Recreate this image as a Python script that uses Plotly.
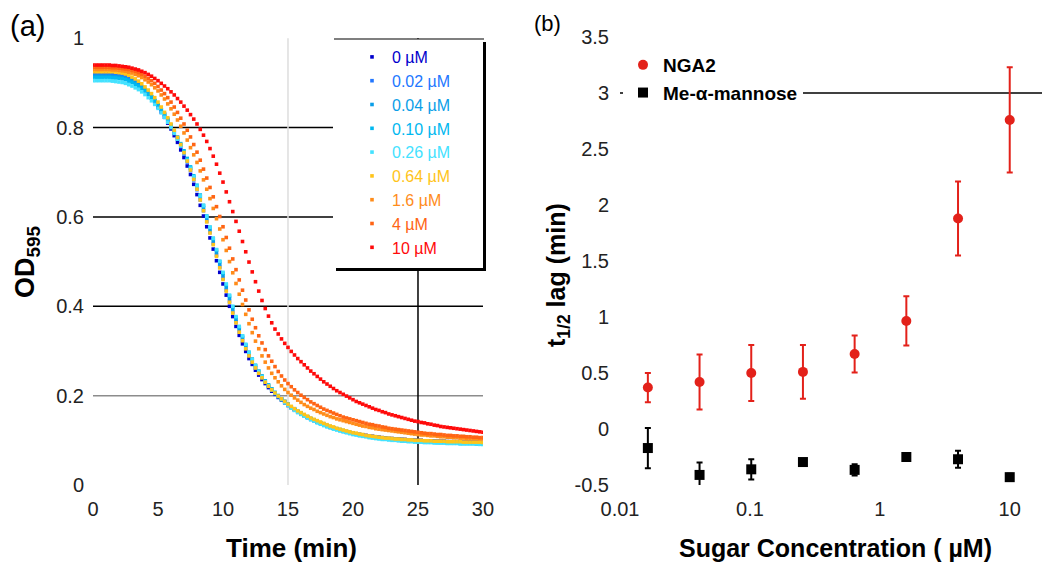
import plotly.graph_objects as go

# ---------------- Panel (a): OD595 vs time, sampled every 0.25 min ----------------
TIME_STEP_MIN = 0.25
CONC_LABELS = ["0 µM", "0.02 µM", "0.04 µM", "0.10 µM", "0.26 µM",
               "0.64 µM", "1.6 µM", "4 µM", "10 µM"]
CONC_COLORS = ["#0000cc", "#2277ff", "#0a9ee8", "#00b8f0", "#44e2ff",
               "#ffc41a", "#ff8c1a", "#ff6414", "#ff0a0a"]

OD_0 = [
    .920, .920, .920, .920, .920, .920, .919, .918, .917, .915,
    .913, .910, .906, .901, .896, .890, .883, .875, .866, .856,
    .846, .835, .823, .810, .797, .782, .767, .750, .733, .714,
    .695, .673, .650, .626, .602, .578, .553, .528, .502, .476,
    .450, .425, .400, .377, .355, .335, .316, .299, .283, .270,
    .257, .246, .236, .227, .218, .210, .203, .196, .190, .184,
    .178, .173, .168, .163, .159, .155, .151, .147, .144, .141,
    .138, .135, .132, .129, .127, .125, .123, .121, .119, .117,
    .116, .114, .113, .112, .111, .110, .109, .108, .107, .106,
    .105, .104, .104, .103, .103, .102, .102, .101, .101, .100,
    .100, .100, .099, .099, .099, .098, .098, .098, .098, .097,
    .097, .097, .097, .097, .096, .096, .096, .096, .096, .095,
    .095]
OD_002 = [
    .918, .918, .918, .918, .918, .918, .918, .917, .916, .914,
    .912, .909, .906, .902, .897, .891, .885, .877, .869, .860,
    .850, .839, .828, .816, .803, .789, .774, .758, .741, .723,
    .704, .683, .661, .638, .614, .590, .565, .540, .514, .488,
    .462, .436, .411, .387, .365, .344, .324, .306, .290, .275,
    .262, .251, .240, .230, .221, .213, .205, .198, .192, .186,
    .180, .174, .169, .164, .160, .156, .152, .148, .145, .142,
    .139, .136, .133, .130, .128, .125, .123, .121, .119, .117,
    .116, .114, .113, .111, .110, .109, .108, .107, .106, .105,
    .105, .104, .103, .103, .102, .102, .101, .101, .100, .100,
    .099, .099, .099, .098, .098, .098, .097, .097, .097, .097,
    .096, .096, .096, .096, .095, .095, .095, .095, .095, .094,
    .094]
OD_004 = [
    .915, .915, .915, .915, .915, .915, .914, .914, .913, .912,
    .910, .907, .904, .900, .895, .890, .884, .877, .869, .861,
    .851, .841, .830, .818, .805, .791, .777, .761, .745, .727,
    .709, .689, .667, .645, .621, .597, .572, .547, .521, .495,
    .469, .443, .418, .394, .371, .350, .330, .312, .295, .280,
    .266, .254, .243, .233, .223, .215, .207, .200, .193, .187,
    .181, .175, .170, .165, .161, .157, .153, .149, .146, .142,
    .139, .136, .133, .131, .128, .126, .124, .122, .120, .118,
    .116, .114, .113, .111, .110, .109, .108, .107, .106, .105,
    .104, .103, .103, .102, .101, .101, .100, .100, .099, .099,
    .098, .098, .098, .097, .097, .097, .096, .096, .096, .095,
    .095, .095, .095, .094, .094, .094, .094, .094, .093, .093,
    .093]
OD_010 = [
    .912, .912, .912, .912, .912, .912, .911, .911, .910, .909,
    .907, .904, .901, .897, .893, .888, .882, .875, .868, .860,
    .851, .841, .830, .819, .806, .793, .779, .764, .748, .731,
    .712, .692, .671, .649, .626, .602, .577, .552, .526, .500,
    .474, .448, .423, .399, .375, .353, .333, .314, .297, .282,
    .268, .255, .244, .233, .224, .215, .207, .200, .193, .187,
    .181, .175, .170, .165, .160, .156, .152, .148, .145, .141,
    .138, .135, .132, .130, .127, .125, .122, .120, .118, .116,
    .115, .113, .112, .110, .109, .108, .107, .106, .105, .104,
    .103, .102, .102, .101, .100, .100, .099, .099, .098, .098,
    .097, .097, .097, .096, .096, .096, .095, .095, .095, .094,
    .094, .094, .094, .093, .093, .093, .093, .093, .092, .092,
    .092]
OD_026 = [
    .905, .905, .905, .905, .905, .905, .904, .903, .902, .901,
    .899, .896, .893, .889, .885, .880, .874, .867, .860, .852,
    .843, .833, .823, .812, .800, .787, .774, .759, .744, .727,
    .709, .690, .669, .647, .625, .601, .577, .552, .527, .501,
    .476, .450, .425, .400, .377, .355, .334, .315, .297, .281,
    .267, .254, .242, .231, .222, .213, .205, .198, .191, .184,
    .178, .172, .167, .162, .158, .154, .150, .146, .143, .139,
    .136, .133, .130, .128, .125, .123, .121, .119, .117, .115,
    .113, .112, .110, .109, .108, .106, .105, .104, .103, .102,
    .102, .101, .100, .100, .099, .098, .098, .097, .097, .096,
    .096, .096, .095, .095, .095, .094, .094, .094, .094, .093,
    .093, .093, .093, .092, .092, .092, .092, .092, .092, .091,
    .091]
OD_064 = [
    .925, .925, .925, .925, .925, .925, .925, .924, .923, .922,
    .920, .917, .913, .909, .904, .898, .891, .884, .876, .867,
    .857, .846, .834, .822, .808, .794, .778, .762, .744, .725,
    .705, .684, .662, .638, .614, .589, .564, .538, .512, .486,
    .460, .434, .409, .385, .363, .342, .323, .305, .289, .275,
    .262, .250, .240, .230, .221, .213, .206, .199, .193, .187,
    .181, .176, .171, .166, .162, .158, .154, .150, .147, .144,
    .141, .138, .135, .132, .130, .127, .125, .123, .121, .119,
    .117, .116, .114, .113, .111, .110, .109, .108, .107, .106,
    .105, .105, .104, .103, .103, .102, .102, .101, .101, .100,
    .100, .100, .099, .099, .099, .098, .098, .098, .098, .097,
    .097, .097, .097, .097, .096, .096, .096, .096, .096, .096,
    .095]
OD_16 = [
    .930, .930, .930, .930, .930, .930, .929, .929, .928, .927,
    .926, .924, .922, .919, .916, .912, .907, .902, .896, .889,
    .882, .873, .864, .853, .842, .830, .817, .803, .788, .772,
    .755, .739, .722, .703, .683, .662, .641, .619, .596, .573,
    .549, .525, .500, .475, .451, .427, .404, .382, .361, .341,
    .322, .305, .289, .275, .262, .250, .240, .231, .222, .214,
    .207, .201, .195, .190, .185, .180, .176, .172, .169, .165,
    .162, .159, .156, .153, .151, .148, .146, .144, .142, .140,
    .138, .136, .134, .132, .131, .129, .128, .126, .125, .124,
    .123, .122, .121, .120, .119, .118, .117, .116, .115, .114,
    .113, .112, .112, .111, .110, .110, .109, .108, .108, .107,
    .107, .106, .106, .105, .105, .104, .104, .104, .104, .103,
    .103]
OD_4 = [
    .935, .935, .935, .935, .935, .935, .934, .934, .933, .932,
    .931, .930, .928, .926, .923, .919, .915, .910, .905, .899,
    .892, .884, .876, .867, .857, .846, .834, .821, .808, .794,
    .779, .762, .745, .727, .707, .687, .666, .645, .623, .601,
    .578, .554, .530, .506, .482, .459, .436, .414, .392, .371,
    .352, .334, .318, .303, .289, .277, .265, .254, .244, .235,
    .227, .220, .213, .207, .201, .196, .191, .186, .182, .178,
    .174, .170, .167, .164, .161, .158, .155, .152, .150, .148,
    .146, .144, .142, .140, .138, .136, .135, .133, .132, .130,
    .129, .127, .126, .125, .124, .123, .122, .121, .120, .119,
    .118, .117, .116, .115, .115, .114, .113, .113, .112, .111,
    .111, .110, .110, .109, .109, .108, .108, .107, .107, .106,
    .106]
OD_10 = [
    .940, .940, .940, .940, .940, .940, .939, .939, .938, .937,
    .936, .935, .933, .931, .929, .926, .923, .919, .915, .910,
    .905, .899, .893, .887, .880, .873, .865, .857, .848, .839,
    .829, .819, .808, .796, .783, .769, .753, .736, .718, .698,
    .678, .656, .634, .612, .590, .568, .545, .522, .499, .477,
    .455, .434, .413, .395, .378, .363, .349, .338, .327, .317,
    .308, .299, .291, .283, .276, .269, .262, .255, .249, .243,
    .237, .231, .226, .221, .216, .211, .207, .203, .199, .195,
    .191, .187, .184, .181, .178, .175, .172, .169, .167, .164,
    .162, .159, .157, .155, .153, .151, .149, .147, .145, .143,
    .142, .140, .139, .137, .136, .134, .133, .131, .130, .129,
    .128, .127, .126, .125, .124, .123, .122, .121, .120, .119,
    .118]
OD_SERIES = [OD_0, OD_002, OD_004, OD_010, OD_026, OD_064, OD_16, OD_4, OD_10]

A_XTICKS = [0, 5, 10, 15, 20, 25, 30]
A_YTICKS = [0, 0.2, 0.4, 0.6, 0.8, 1]
A_YTICKTEXT = ["0", "0.2", "0.4", "0.6", "0.8", "1"]

# ---------------- Panel (b): t1/2 lag vs sugar concentration ----------------
SUGAR_CONC = [0.016384, 0.04096, 0.1024, 0.256, 0.64, 1.6, 4.0, 10.0]
NGA2_LAG = [0.37, 0.42, 0.50, 0.51, 0.67, 0.965, 1.88, 2.76]
NGA2_ERR = [0.13, 0.245, 0.25, 0.24, 0.165, 0.22, 0.33, 0.47]
MANNOSE_LAG = [-0.17, -0.41, -0.36, -0.295, -0.365, -0.25, -0.27, -0.43]
MANNOSE_ERR = [0.18, 0.11, 0.09, 0.015, 0.05, 0.015, 0.075, 0.03]

B_XTICKS = [0.01, 0.1, 1, 10]
B_XTICKTEXT = ["0.01", "0.1", "1", "10"]
B_YTICKS = [-0.5, 0, 0.5, 1, 1.5, 2, 2.5, 3, 3.5]
B_YTICKTEXT = ["-0.5", "0", "0.5", "1", "1.5", "2", "2.5", "3", "3.5"]

# The page body has an 8px margin, so the figure is 8px smaller and every
# screen-pixel position below is converted with that offset.
PAGE_OFFSET = 8
SCREEN_W, SCREEN_H = 1050, 568
W, H = SCREEN_W - PAGE_OFFSET, SCREEN_H - PAGE_OFFSET
FONT = "Liberation Sans, Arial, Helvetica, sans-serif"
RED = "#e3211a"


def px_x(p):
    return (p - PAGE_OFFSET) / W


def px_y(p):
    return 1 - (p - PAGE_OFFSET) / H


fig = go.Figure()

for label, color, od in zip(CONC_LABELS, CONC_COLORS, OD_SERIES):
    t = [i * TIME_STEP_MIN for i in range(len(od))]
    fig.add_trace(go.Scatter(
        x=t, y=od, mode="markers",
        marker=dict(symbol="square", size=3.6, color=color),
        name=f"<span style='color:{color}'>{label}</span>",
        xaxis="x", yaxis="y", legend="legend", hoverinfo="skip"))

fig.add_trace(go.Scatter(
    x=SUGAR_CONC, y=NGA2_LAG, mode="markers",
    marker=dict(symbol="circle", size=10, color=RED),
    error_y=dict(type="data", array=NGA2_ERR, color=RED, thickness=2, width=3),
    name="NGA2", xaxis="x2", yaxis="y2", legend="legend2"))
fig.add_trace(go.Scatter(
    x=SUGAR_CONC, y=MANNOSE_LAG, mode="markers",
    marker=dict(symbol="square", size=10, color="black"),
    error_y=dict(type="data", array=MANNOSE_ERR, color="black", thickness=2, width=3),
    name="Me-α-mannose", xaxis="x2", yaxis="y2", legend="legend2"))

shapes = []
# panel (a) reference lines
for yv, col in [(0.8, "black"), (0.6, "black"), (0.4, "black"), (0.2, "#8c8c8c")]:
    shapes.append(dict(type="line", xref="x", yref="y", x0=0, x1=30, y0=yv, y1=yv,
                       line=dict(color=col, width=1.5), layer="below"))
shapes.append(dict(type="line", xref="x", yref="y", x0=15, x1=15, y0=0, y1=1,
                   line=dict(color="#dddddd", width=1.5), layer="below"))
shapes.append(dict(type="line", xref="x", yref="y", x0=25, x1=25, y0=0, y1=1,
                   line=dict(color="black", width=1.5), layer="below"))
# panel (a) legend frame with drop shadow
shapes.append(dict(type="rect", xref="paper", yref="paper",
                   x0=px_x(336), x1=px_x(486), y0=px_y(271), y1=px_y(42),
                   fillcolor="black", line=dict(width=0), layer="above"))
shapes.append(dict(type="rect", xref="paper", yref="paper",
                   x0=px_x(333), x1=px_x(483), y0=px_y(268), y1=px_y(39),
                   fillcolor="white", line=dict(width=0), layer="above"))
shapes.append(dict(type="line", xref="paper", yref="paper",
                   x0=px_x(334), x1=px_x(484), y0=px_y(39), y1=px_y(39),
                   line=dict(color="black", width=1.2), layer="above"))
# panel (b) line at 3
shapes.append(dict(type="line", xref="x2 domain", yref="y2", x0=0, x1=1, y0=3, y1=3,
                   line=dict(color="black", width=1.5), layer="below"))

annotations = [
    dict(text="(a)", x=0, y=1, xref="paper", yref="paper",
         xanchor="left", yanchor="top", showarrow=False,
         font=dict(size=29, color="black", family=FONT)),
    dict(text="(b)", x=px_x(532), y=px_y(9), xref="paper", yref="paper",
         xanchor="left", yanchor="top", showarrow=False,
         font=dict(size=22, color="black", family=FONT)),
    dict(text="Time (min)", x=px_x(291), y=px_y(548), xref="paper", yref="paper",
         xanchor="center", yanchor="middle", showarrow=False,
         font=dict(size=26, color="black", family=FONT, weight="bold")),
    dict(text="Sugar Concentration ( µM)", x=px_x(835), y=px_y(548), xref="paper", yref="paper",
         xanchor="center", yanchor="middle", showarrow=False,
         font=dict(size=25, color="black", family=FONT, weight="bold")),
    dict(text="OD<sub>595</sub>", x=px_x(27), y=px_y(262), xref="paper", yref="paper",
         xanchor="center", yanchor="middle", showarrow=False, textangle=-90,
         font=dict(size=27, color="black", family=FONT, weight="bold")),
    dict(text="t<sub>1/2</sub> lag (min)", x=px_x(558), y=px_y(275), xref="paper", yref="paper",
         xanchor="center", yanchor="middle", showarrow=False, textangle=-90,
         font=dict(size=25, color="black", family=FONT, weight="bold")),
]

tickfont = dict(size=20, color="#222222", family=FONT)
common = dict(showgrid=False, zeroline=False, showline=False, ticks="",
              tickfont=tickfont, automargin=False)

fig.update_layout(
    width=W, height=H, margin=dict(l=0, r=0, t=0, b=0, autoexpand=False),
    paper_bgcolor="white", plot_bgcolor="white",
    font=dict(family=FONT, color="black"),
    xaxis=dict(domain=[px_x(93), px_x(483)], range=[0, 30.001], tickvals=A_XTICKS,
               anchor="y", ticklabelstandoff=10, **common),
    yaxis=dict(domain=[px_y(485), px_y(38)], range=[0, 1.0005], tickvals=A_YTICKS,
               ticktext=A_YTICKTEXT, anchor="x", ticklabelstandoff=8, **common),
    xaxis2=dict(domain=[px_x(620), 1.0], type="log", range=[-2, 1.31], tickvals=B_XTICKS,
                ticktext=B_XTICKTEXT, anchor="y2", ticklabelstandoff=10, **common),
    yaxis2=dict(domain=[px_y(485), px_y(37)], range=[-0.5, 3.5005], tickvals=B_YTICKS,
                ticktext=B_YTICKTEXT, anchor="x2", ticklabelstandoff=10, **common),
    legend=dict(x=px_x(352), y=px_y(40), xanchor="left", yanchor="top",
                bgcolor="rgba(0,0,0,0)", borderwidth=0,
                font=dict(size=16, family=FONT)),
    legend2=dict(x=px_x(623), y=px_y(46), xanchor="left", yanchor="top",
                 bgcolor="white", borderwidth=0,
                 font=dict(size=19, family=FONT, color="black", weight="bold")),
    shapes=shapes, annotations=annotations, showlegend=True,
)

fig.write_html("out.html")
